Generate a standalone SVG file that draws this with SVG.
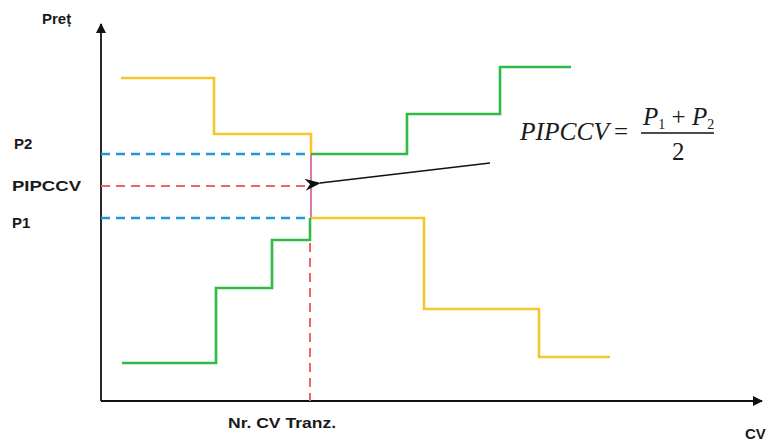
<svg xmlns="http://www.w3.org/2000/svg" width="770" height="441" viewBox="0 0 770 441">
<style>
.lbl{font-family:"Liberation Sans",Arial,sans-serif;font-weight:bold;font-size:15px;fill:#1a1a1a}
.math{font-family:"Liberation Serif","Times New Roman",serif;font-size:25px;fill:#1a1a1a}
.yel{fill:none;stroke:#f7c52e;stroke-width:2.6}
.grn{fill:none;stroke:#2fbb46;stroke-width:2.6}
.blue{fill:none;stroke:#1e9ad8;stroke-width:2.4;stroke-dasharray:9 6}
.red{fill:none;stroke:#f06464;stroke-width:2;stroke-dasharray:9 6}
.axis{fill:none;stroke:#111;stroke-width:1.8}
</style>
<defs>
<marker id="ah" markerWidth="10" markerHeight="10" refX="9" refY="5" orient="auto" markerUnits="userSpaceOnUse">
<path d="M0,0 L10,5 L0,10 Z" fill="#111"/>
</marker>
<marker id="ah2" markerWidth="16" markerHeight="12" refX="1" refY="6" orient="auto" markerUnits="userSpaceOnUse">
<path d="M16,0 L0,6 L16,12 L11,6 Z" fill="#111"/>
</marker>
</defs>
<rect width="770" height="441" fill="#fff"/>
<g id="axes">
<line class="axis" x1="101" y1="401" x2="101" y2="24" marker-end="url(#ah)"/>
<line class="axis" x1="101" y1="401" x2="762" y2="401" marker-end="url(#ah)"/>
</g>
<g id="guides">
<line class="blue" x1="101" y1="154" x2="310" y2="154"/>
<line class="blue" x1="101" y1="218" x2="310" y2="218"/>
<line class="red" x1="101" y1="186" x2="310" y2="186"/>
<line class="red" x1="310" y1="243" x2="310" y2="401"/>
<line x1="311" y1="154" x2="311" y2="218" stroke="#d67aa8" stroke-width="2"/>
</g>
<g id="supply">
<polyline class="yel" points="121,78 214,78 214,134 311,134 311,154"/>
<polyline class="yel" points="311,218 424,218 424,309 539,309 539,357 610,357"/>
</g>
<g id="demand">
<polyline class="grn" points="122,363 216,363 216,288 272,288 272,240 310,240 310,218"/>
<polyline class="grn" points="311,154 407,154 407,114 500,114 500,67 571,67"/>
</g>
<g id="connectors">
<line x1="490" y1="163" x2="320" y2="183" stroke="#111" stroke-width="1.6" marker-end="url(#ah2)"/>
</g>
<g id="labels">
<text class="lbl" x="42" y="24" font-size="14">Preț</text>
<text class="lbl" x="14" y="149">P2</text>
<text class="lbl" x="12" y="191" textLength="69" lengthAdjust="spacingAndGlyphs">PIPCCV</text>
<text class="lbl" x="12" y="228">P1</text>
<text class="lbl" x="228" y="428" textLength="108" lengthAdjust="spacingAndGlyphs">Nr. CV Tranz.</text>
<text class="lbl" x="745" y="439">CV</text>
</g>
<g id="formula">
<text class="math" x="520" y="140" font-style="italic" textLength="89" lengthAdjust="spacingAndGlyphs">PIPCCV</text>
<text class="math" x="614" y="140">=</text>
<text class="math" x="643" y="125"><tspan font-style="italic">P</tspan><tspan font-size="14" dy="4">1</tspan><tspan dy="-4"> + </tspan><tspan font-style="italic">P</tspan><tspan font-size="14" dy="4">2</tspan></text>
<line x1="641" y1="133" x2="714" y2="133" stroke="#111" stroke-width="1.4"/>
<text class="math" x="672" y="160">2</text>
</g>
</svg>
